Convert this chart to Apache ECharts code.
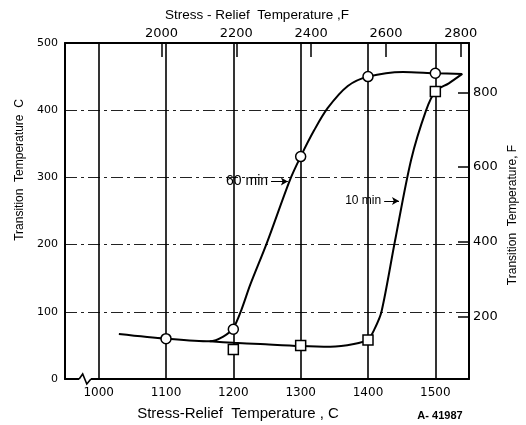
<!DOCTYPE html>
<html>
<head>
<meta charset="utf-8">
<script src="https://cdn.jsdelivr.net/npm/echarts@6/dist/echarts.min.js"></script>
<style>
  html, body { margin: 0; padding: 0; background: #fff; }
  #chart { width: 526px; height: 425px; }
</style>
</head>
<body>
<div id="chart"></div>
<script>
// Stress-relief temperatures (°C) of the test specimens
const reliefTempC = [1100, 1200, 1300, 1400, 1500];
// Measured transition temperatures (°C) for each holding time
const transition60min = [60, 74, 331, 450, 455];
const transition10min = [null, 44, 50, 58, 428];

// Faired curves drawn through the measurements: [stress-relief °C, transition °C]
const curve60min = [
  [1030, 67], [1100, 60], [1165, 56], [1185, 63], [1200, 76], [1212, 103],
  [1225, 140], [1250, 203], [1284, 296], [1300, 331], [1320, 370], [1340, 403],
  [1370, 436], [1400, 450], [1452, 457], [1500, 455], [1540, 454]
];
const curve10min = [
  [1165, 56], [1200, 54], [1240, 52], [1300, 49], [1344, 48], [1379, 52],
  [1400, 59], [1410, 75], [1420, 100], [1440, 205], [1464, 326],
  [1486, 399], [1500, 428], [1520, 440], [1540, 454]
];

// Axis ticks
const ticksReliefC = [1000, 1100, 1200, 1300, 1400, 1500];
const ticksReliefF = [2000, 2200, 2400, 2600, 2800];
const ticksTransF = [200, 400, 600, 800];

const cToF = c => c * 9 / 5 + 32;
const X_MIN = 950, X_MAX = 1550, Y_MIN = 0, Y_MAX = 500;

const FONT = 'Liberation Sans, Arial, sans-serif';
const NUM_FONT = 'DejaVu Sans, sans-serif';
const ink = '#000';
const plain = v => String(Math.round(v));

const chart = echarts.init(document.getElementById('chart'), null, { renderer: 'canvas' });

const option = {
  backgroundColor: '#fff',
  animation: false,
  grid: { left: 65, right: 57, top: 43, bottom: 46, containLabel: false },
  xAxis: [
    {
      type: 'value', position: 'bottom', min: X_MIN, max: X_MAX,
      axisLine: { show: true, lineStyle: { color: ink, width: 2 } },
      axisTick: { show: false },
      splitLine: { show: false },
      axisLabel: {
        customValues: ticksReliefC, formatter: plain, color: ink, fontFamily: NUM_FONT,
        fontSize: 12, margin: 8
      }
    },
    {
      type: 'value', position: 'top', min: cToF(X_MIN), max: cToF(X_MAX),
      axisLine: { show: true, lineStyle: { color: ink, width: 2 } },
      axisTick: { show: true, inside: true, length: 14, customValues: ticksReliefF,
                  lineStyle: { color: ink, width: 1.5 } },
      splitLine: { show: false },
      axisLabel: {
        customValues: ticksReliefF, formatter: plain, color: ink, fontFamily: NUM_FONT,
        fontSize: 13, margin: 3
      }
    }
  ],
  yAxis: [
    {
      type: 'value', position: 'left', min: Y_MIN, max: Y_MAX, interval: 100,
      axisLine: { show: true, lineStyle: { color: ink, width: 2 } },
      axisTick: { show: false },
      splitLine: { show: true, lineStyle: { color: '#222', width: 1, type: [12, 4, 3, 4] } },
      axisLabel: { formatter: plain, color: ink, fontFamily: NUM_FONT, fontSize: 11, margin: 7 }
    },
    {
      type: 'value', position: 'right', min: cToF(Y_MIN), max: cToF(Y_MAX),
      axisLine: { show: true, lineStyle: { color: ink, width: 2 } },
      axisTick: { show: true, inside: true, length: 11, customValues: ticksTransF,
                  lineStyle: { color: ink, width: 1.5 } },
      splitLine: { show: false },
      axisLabel: {
        customValues: ticksTransF, formatter: plain, color: ink, fontFamily: NUM_FONT,
        fontSize: 13, margin: 4
      }
    }
  ],
  series: [
    {
      // vertical grid rules at each stress-relief temperature
      type: 'line', data: [], silent: true,
      markLine: {
        silent: true, symbol: 'none', animation: false,
        label: { show: false },
        lineStyle: { color: ink, width: 1.6, type: 'solid' },
        data: ticksReliefC.map(v => ({ xAxis: v }))
      }
    },
    {
      name: '60 min', type: 'line', data: curve60min,
      showSymbol: false, smooth: 0.3,
      lineStyle: { color: ink, width: 2 }, z: 3,
      markLine: {
        silent: true, animation: false, symbol: ['none', 'arrow'], symbolSize: [6, 7],
        lineStyle: { color: ink, width: 1, type: 'solid' },
        label: { show: true, position: 'start', formatter: '60 min', color: ink,
                 fontFamily: FONT, fontSize: 14, distance: 3 },
        data: [[{ coord: [1256, 294] }, { coord: [1281, 294] }]]
      }
    },
    {
      name: '10 min', type: 'line', data: curve10min,
      showSymbol: false, smooth: 0.3,
      lineStyle: { color: ink, width: 2 }, z: 3,
      markLine: {
        silent: true, animation: false, symbol: ['none', 'arrow'], symbolSize: [6, 7],
        lineStyle: { color: ink, width: 1, type: 'solid' },
        label: { show: true, position: 'start', formatter: '10 min', color: ink,
                 fontFamily: FONT, fontSize: 12, distance: 3 },
        data: [[{ coord: [1424, 265] }, { coord: [1446, 265] }]]
      }
    },
    {
      name: '60 min data', type: 'scatter', symbol: 'circle', symbolSize: 10, z: 5,
      itemStyle: { color: '#fff', borderColor: ink, borderWidth: 1.5, opacity: 1 },
      data: reliefTempC.map((c, i) => [c, transition60min[i]])
    },
    {
      name: '10 min data', type: 'scatter', symbol: 'rect', symbolSize: 10, z: 5,
      itemStyle: { color: '#fff', borderColor: ink, borderWidth: 1.5, opacity: 1 },
      data: reliefTempC.map((c, i) => [c, transition10min[i]]).filter(d => d[1] != null)
    }
  ]
};

chart.setOption(option);

// Axis titles, drawing number and the scale break on the bottom axis
const p = (c, t) => chart.convertToPixel({ xAxisIndex: 0, yAxisIndex: 0 }, [c, t]);
const b0 = p(971, 0), b1 = p(988.5, 0);
const bw = b1[0] - b0[0];
const titleStyle = { fill: ink, fontFamily: FONT, fontSize: 13 };

chart.setOption({
  graphic: [
    { type: 'rect', z: 100, shape: { x: b0[0], y: b0[1] - 2, width: bw, height: 4 },
      style: { fill: '#fff' } },
    { type: 'polyline', z: 101,
      shape: { points: [
        [b0[0], b0[1]], [b0[0] + bw * 0.3, b0[1] - 5], [b0[0] + bw * 0.65, b0[1] + 5], [b1[0], b1[1]]
      ] },
      style: { stroke: ink, lineWidth: 1.6, fill: null } },
    { type: 'text', z: 100, x: 257, y: 15,
      style: Object.assign({ text: 'Stress - Relief  Temperature ,F', align: 'center', verticalAlign: 'middle' }, titleStyle, { fontSize: 13.5 }) },
    { type: 'text', z: 100, x: 238, y: 414,
      style: Object.assign({ text: 'Stress-Relief  Temperature , C', align: 'center', verticalAlign: 'middle' }, titleStyle, { fontSize: 15 }) },
    { type: 'text', z: 100, x: 20, y: 170, rotation: Math.PI / 2,
      style: Object.assign({ text: 'Transition  Temperature  C', align: 'center', verticalAlign: 'middle' }, titleStyle, { fontSize: 12 }) },
    { type: 'text', z: 100, x: 513, y: 215, rotation: Math.PI / 2,
      style: Object.assign({ text: 'Transition  Temperature, F', align: 'center', verticalAlign: 'middle' }, titleStyle, { fontSize: 12 }) },
    { type: 'text', z: 100, x: 440, y: 416,
      style: { text: 'A- 41987', align: 'center', verticalAlign: 'middle', fill: ink,
               fontFamily: FONT, fontSize: 11, fontWeight: 'bold' } }
  ]
});
</script>
</body>
</html>
